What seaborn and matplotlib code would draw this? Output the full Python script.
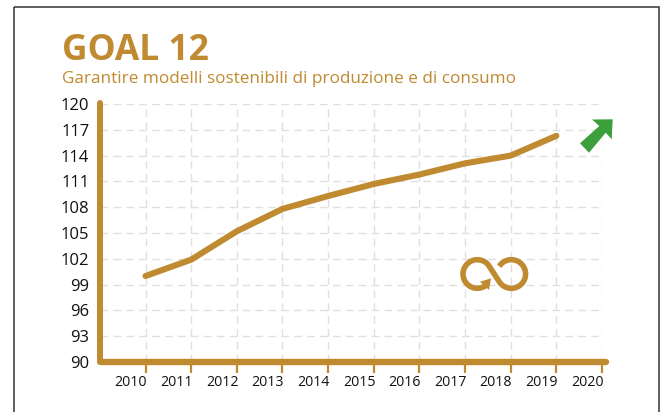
import numpy as np
import pandas as pd
import matplotlib
matplotlib.use("Agg")
import matplotlib.pyplot as plt
import seaborn as sns
from matplotlib.patches import Polygon, Rectangle
from matplotlib.transforms import ScaledTranslation

years = [2010, 2011, 2012, 2013, 2014, 2015, 2016, 2017, 2018, 2019]
values = [100.0, 101.9, 105.2, 107.8, 109.3, 110.7, 111.8, 113.1, 114.0, 116.3]
x_ticks = list(range(2010, 2021))
y_ticks = list(range(90, 121, 3))

gold = "#BF8A30"
green = "#3C9F3C"
W, H = 663, 412

sns.set_theme(style="white")
plt.rcParams["font.family"] = ["Open Sans", "DejaVu Sans"]

fig = plt.figure(figsize=(W / 100, H / 100), dpi=100)
left, right, top, bottom = 100.5, 602, 104, 362
ax = fig.add_axes([left / W, 1 - bottom / H, (right - left) / W, (bottom - top) / H])

df = pd.DataFrame({"year": years, "value": values})
sns.lineplot(data=df, x="year", y="value", color=gold, linewidth=4.4, ax=ax,
             solid_capstyle="round", solid_joinstyle="miter", zorder=5)

xmin = 2020 - (right - left) / 45.65
ax.set_xlim(xmin, 2020)
ax.set_ylim(90, 120)
ax.set_xticks(x_ticks)
ax.set_yticks(y_ticks)
ax.set_xlabel("")
ax.set_ylabel("")
ax.grid(True, color="#e0e0e0", linestyle=(0, (5.5, 3.8)), linewidth=1.0)
ax.set_axisbelow(True)
ax.tick_params(axis="x", length=8, width=1.6, color=gold, labelsize=10.2,
               labelcolor="#111111", pad=1, bottom=True)
ax.tick_params(axis="y", length=0, labelsize=12, labelcolor="#111111", pad=8)
# year labels end at the tick, they are not centred on it
shift = ScaledTranslation(1.5 / 100, 0, fig.dpi_scale_trans)
for lab in ax.get_xticklabels():
    lab.set_ha("right")
    lab.set_transform(lab.get_transform() + shift)

ax.spines["top"].set_visible(False)
ax.spines["right"].set_visible(False)
for side in ["left", "bottom"]:
    ax.spines[side].set_color(gold)
    ax.spines[side].set_capstyle("round")
    ax.spines[side].set_zorder(6)
ax.spines["left"].set_linewidth(4.3)
ax.spines["bottom"].set_linewidth(4.6)
ax.spines["left"].set_bounds(90, 120.1)
ax.spines["bottom"].set_bounds(xmin, 2020.08)

# overlay in pixel coordinates for frame and icons
ov = fig.add_axes([0, 0, 1, 1], facecolor="none")
ov.set_xlim(0, W)
ov.set_ylim(H, 0)
ov.axis("off")
ov.add_patch(Rectangle((14, 7), 645, 420, fill=False, edgecolor="#333333", linewidth=1.1, clip_on=False))

ov.text(62, 60, "GOAL 12", color=gold, fontsize=25.5, fontweight="bold", va="baseline")
ov.text(62, 83, "Garantire modelli sostenibili di produzione e di consumo", color=gold,
        fontsize=12.35, va="baseline")

# green arrow
arrow = [(612.7, 119.3), (611.7, 139.3), (605.7, 132.7), (589, 152.7),
         (580, 143.3), (599.3, 126), (592, 119.5)]
ov.add_patch(Polygon(arrow, closed=True, facecolor=green, edgecolor="none"))

# infinity icon: two round lobes joined by straight strands
cx, cy, d, r = 494.3, 274, 17.0, 14.3
phi = np.arctan2(np.sqrt(d**2 - r**2) * r / d, np.sqrt(d**2 - r**2) * np.sqrt(d**2 - r**2) / d - d)
a1 = np.linspace(phi, -phi, 80)
a2 = np.linspace(np.pi - phi, np.pi + phi - 0.25, 80)
ix = np.concatenate([cx + d + r * np.cos(a1), cx - d + r * np.cos(a2)])
iy = np.concatenate([cy - r * np.sin(a1), cy - r * np.sin(a2)])
ov.plot(ix, iy, color=gold, linewidth=4, solid_capstyle="butt", solid_joinstyle="round")
ov.add_patch(Polygon([(491, 278.3), (480, 281.7), (489, 290)], closed=True, facecolor=gold, edgecolor="none"))

fig.savefig("out.png", dpi=100)
